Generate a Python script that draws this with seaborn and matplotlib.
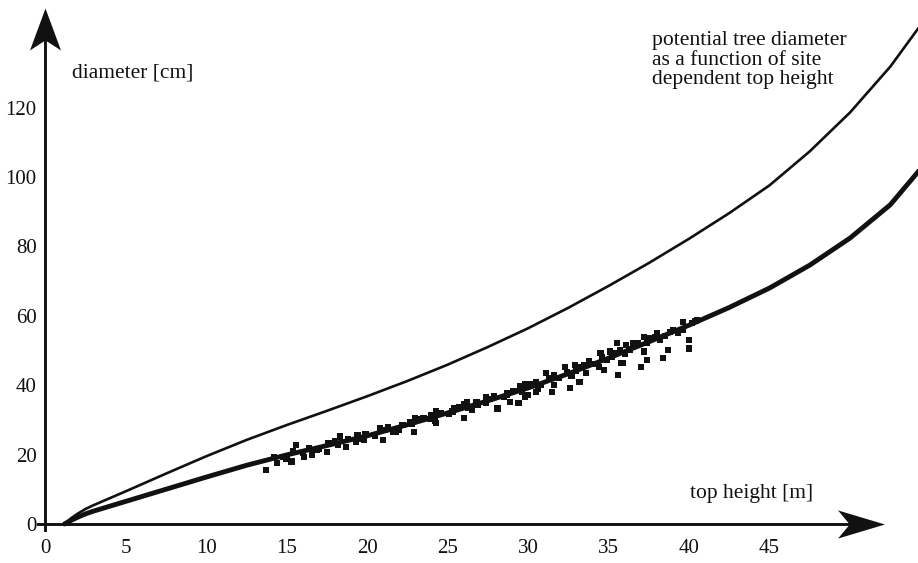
import numpy as np
import pandas as pd
import matplotlib
matplotlib.use("Agg")
import matplotlib.pyplot as plt
from matplotlib.path import Path
import seaborn as sns

# ------------------------ Données ------------------------
# courbe du diamètre potentiel (trait fin)
pot_height = [1.2, 1.6, 2.0, 2.5, 3.0, 4.0, 5.0, 7.5, 10, 12.5, 15, 17.5, 20, 22.5, 25,
              27.5, 30, 32.5, 35, 37.5, 40, 42.5, 45, 47.5, 50, 52.5, 54.5]
pot_diam = [0, 1.6, 2.9, 4.3, 5.4, 7.4, 9.4, 14.5, 19.5, 24.2, 28.5, 32.6, 36.8, 41.2, 45.9,
            51.0, 56.4, 62.3, 68.6, 75.2, 82.2, 89.6, 97.6, 107.4, 118.6, 131.8, 144.5]

# courbe ajustée (trait épais)
fit_height = [1.2, 1.6, 2.0, 2.5, 3.0, 4.0, 5.0, 7.5, 10, 12.5, 15, 17.5, 20, 22.5, 25,
              27.5, 30, 32.5, 35, 37.5, 40, 42.5, 45, 47.5, 50, 52.5, 54.5]
fit_diam = [0, 1.0, 1.9, 2.9, 3.7, 5.1, 6.5, 10.0, 13.5, 16.9, 19.9, 22.6, 25.4, 28.6, 32.0,
            35.5, 39.2, 43.3, 47.8, 52.5, 57.3, 62.4, 68.0, 74.6, 82.4, 92.0, 103.0]

# observations (petits carrés)
obs_height = [13.7, 14.4, 15.3, 15.6, 16.1, 16.9, 17.5, 18.3, 18.7, 19.4, 19.8, 21.0,
              21.3, 21.8, 21.8, 22.9, 22.7, 23.5, 24.3, 24.3, 25.3, 26.0, 26.2, 26.9,
              27.4, 28.1, 28.7, 28.9, 29.4, 29.5, 30.0, 30.5, 30.5, 29.8, 31.1, 31.5,
              31.6, 32.3, 32.6, 32.9, 33.2, 33.6, 34.5, 34.7, 35.1, 35.5, 35.6, 35.9,
              36.1, 36.5, 37.2, 37.2, 37.4, 38.0, 38.4, 38.7, 39.6, 40.0, 40.0, 40.5,
              35.8, 37.0,
              14.2, 14.8, 15.4, 16.0, 16.4, 17.0, 17.6, 18.2, 18.8, 19.3, 19.9, 20.5,
              21.1, 21.6, 22.2, 22.8, 23.3, 23.9, 24.6, 25.1, 25.7, 26.3, 26.8, 27.4,
              27.9, 28.5, 29.1, 29.6, 30.2, 30.8, 31.3, 31.9, 32.4, 33.0, 33.5, 34.1,
              34.6, 35.2, 35.7, 36.3, 36.8, 37.4, 37.9, 38.5, 39.0, 39.6, 40.2,
              15.0, 16.6, 18.0, 19.6, 20.8, 22.0, 23.0, 24.2, 25.4, 26.5, 27.6, 28.7,
              29.8, 30.6, 31.6, 32.7, 33.8, 34.4, 35.4, 36.0, 36.6, 37.6, 38.2, 38.8,
              39.3, 40.4, 34.9, 33.2, 26.0, 24.0]
obs_diam = [15.6, 17.5, 18.0, 22.8, 19.4, 21.3, 20.8, 25.2, 22.3, 25.6, 24.2, 24.2,
            28.0, 27.1, 26.6, 26.6, 29.5, 30.5, 32.4, 29.0, 32.4, 30.5, 35.2, 34.3,
            36.7, 33.3, 37.7, 35.2, 34.8, 39.6, 37.2, 38.1, 41.0, 36.7, 43.4, 38.1,
            40.1, 45.3, 39.1, 45.8, 41.0, 43.4, 49.2, 44.4, 49.7, 52.1, 42.9, 46.3,
            51.6, 52.1, 54.0, 49.7, 47.3, 55.0, 47.8, 50.1, 58.3, 53.0, 50.6, 58.8,
            46.3, 45.3,
            19.3, 19.2, 20.9, 20.4, 22.0, 21.5, 23.2, 22.7, 24.5, 23.8, 25.9, 25.5,
            27.2, 26.5, 28.6, 28.8, 30.2, 30.2, 31.9, 31.8, 33.6, 33.5, 35.2, 34.9,
            36.8, 36.6, 38.4, 38.2, 40.2, 40.1, 41.9, 42.0, 43.8, 44.0, 45.8, 46.0,
            48.0, 48.2, 50.1, 50.3, 52.0, 52.2, 54.0, 54.2, 56.0, 56.0, 57.9,
            18.8, 20.0, 24.0, 24.5, 27.5, 27.0, 30.6, 29.8, 33.4, 32.9, 36.0, 37.2,
            40.3, 39.0, 42.8, 42.7, 46.8, 45.3, 49.2, 49.0, 51.6, 53.5, 53.0, 55.3,
            55.0, 58.6, 47.2, 45.2, 34.6, 31.5]

x_ticks = [0, 5, 10, 15, 20, 25, 30, 35, 40, 45]
y_ticks = [0, 20, 40, 60, 80, 100, 120]

# ------------------------ Figure ------------------------
sns.set_style("white")
plt.rcParams['font.family'] = ['Liberation Serif', 'DejaVu Serif']
ink = '#111111'

fig = plt.figure(figsize=(9.18, 5.63), dpi=100)
ax = fig.add_axes([0, 0, 1, 1])
ax.set_xlim(-2.8, 54.22)
ax.set_ylim(-11.24, 151.0)

df_obs = pd.DataFrame({'h': obs_height, 'd': obs_diam})
sns.scatterplot(data=df_obs, x='h', y='d', marker='s', s=20, color=ink,
                edgecolor='none', linewidth=0, ax=ax, zorder=3)
sns.lineplot(x=pot_height, y=pot_diam, color=ink, lw=1.9, ax=ax, sort=False)
sns.lineplot(x=fit_height, y=fit_diam, color=ink, lw=3.5, ax=ax, sort=False)

# axes en croix avec flèches
for s in ['top', 'right']:
    ax.spines[s].set_visible(False)
ax.spines['left'].set_position(('data', 0))
ax.spines['bottom'].set_position(('data', 0))
ax.spines['left'].set_bounds(-1.7, 139.5)
ax.spines['bottom'].set_bounds(-0.45, 50.0)
for s in ['left', 'bottom']:
    ax.spines[s].set_linewidth(2.1)
    ax.spines[s].set_color(ink)

ax.set_xticks(x_ticks)
ax.set_yticks(y_ticks)
ax.set_xticklabels([str(v) for v in x_ticks])
ax.set_yticklabels([str(v) for v in y_ticks])
ax.tick_params(direction='inout', length=14, width=1.7, color=ink,
               labelsize=15, labelcolor=ink)
ax.tick_params(axis='x', pad=3.5)
ax.tick_params(axis='y', pad=-1.0)
ax.set_xlabel('')
ax.set_ylabel('')

head_up = Path([(0, 1), (-0.74, -1), (0, -0.52), (0.74, -1), (0, 1)],
               [Path.MOVETO, Path.LINETO, Path.LINETO, Path.LINETO, Path.CLOSEPOLY])
head_right = Path([(1, 0), (-1, 0.6), (-0.5, 0), (-1, -0.6), (1, 0)],
                  [Path.MOVETO, Path.LINETO, Path.LINETO, Path.LINETO, Path.CLOSEPOLY])
ax.plot([0], [142.65], marker=head_up, markersize=30.2, color=ink,
        markeredgewidth=0, clip_on=False)
ax.plot([50.7], [0], marker=head_right, markersize=33.8, color=ink,
        markeredgewidth=0, clip_on=False)

# textes
ax.text(1.68, 130, 'diameter [cm]', fontsize=15.5, va='center', ha='left', color=ink)
ax.text(40.06, 8.8, 'top height [m]', fontsize=15.5, va='center', ha='left', color=ink)
ax.text(37.7, 142.0, 'potential tree diameter\nas a function of site\ndependent top height',
        fontsize=15.6, va='top', ha='left', linespacing=1.02, color=ink)

plt.savefig('out.png', dpi=100)
